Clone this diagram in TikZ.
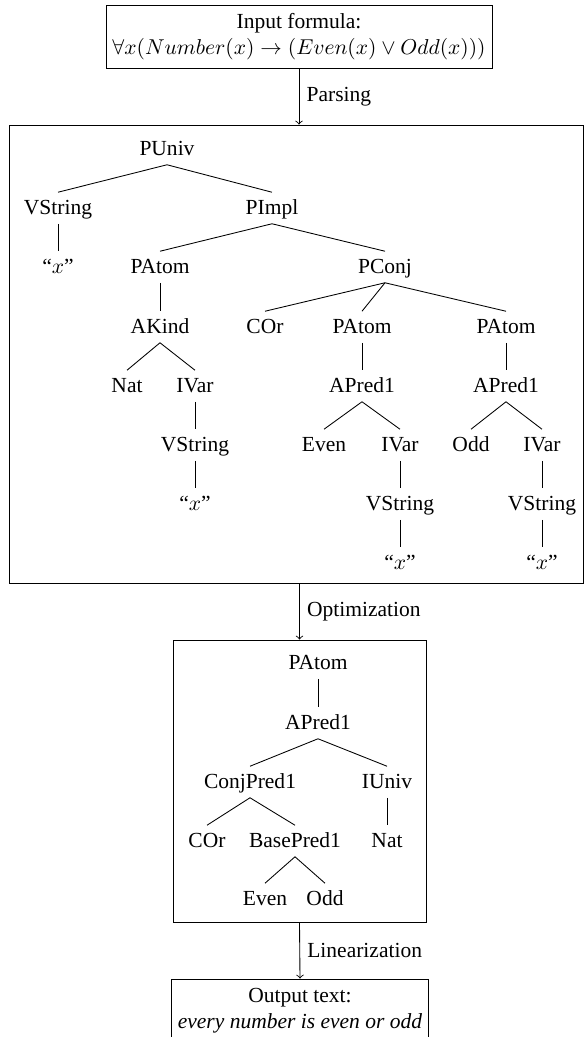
\documentclass[tikz,border=0pt]{standalone}
\usepackage{fontspec}
\setmainfont{Liberation Serif}
\usetikzlibrary{fit}
\tikzset{
  tn/.style={inner sep=3pt, text height=1.55ex, text depth=.25ex},
  frame/.style={draw, inner sep=0pt},
  txtbox/.style={draw, align=center, inner sep=3pt, minimum height=29.3pt},
}
\begin{document}
\begin{tikzpicture}[x=0.465pt,y=-0.465pt]
    \useasboundingbox (0,0) rectangle (584,1037);
    \node[txtbox] (inbox) at (299,36.5) {Input formula:\\ $\forall x(Number(x)\rightarrow(Even(x)\vee Odd(x)))$};
    \node[frame, fit={(9,125) (583,583)}] (ptree) {};
    \node[frame, fit={(173,640) (426,922)}] (otree) {};
    \node[txtbox] (outbox) at (300,1010.5) {Output text:\\ \textit{every number is even or odd}};
    \draw[->] (inbox.south) -- (inbox.south |- ptree.north) node[midway,right] {Parsing};
    \draw[->] (otree.north |- ptree.south) -- (otree.north) node[midway,right] {Optimization};
    \draw[->] (otree.south) -- (outbox.north) node[midway,right] {Linearization};
    \node[tn] (puniv) at (167,149) {PUniv};
    \node[tn] (vsa) at (58,208) {VString};
    \node[tn] (pimpl) at (272,208) {PImpl};
    \node[tn] (xa) at (58,267) {``$x$''};
    \node[tn] (patoma) at (160,267) {PAtom};
    \node[tn] (pconj) at (385,267) {PConj};
    \node[tn] (akind) at (160,327) {AKind};
    \node[tn] (cor) at (265,327) {COr};
    \node[tn] (patomb) at (362,327) {PAtom};
    \node[tn] (patomc) at (506,327) {PAtom};
    \node[tn] (nat) at (127,386) {Nat};
    \node[tn] (ivara) at (195,386) {IVar};
    \node[tn] (apredb) at (362,386) {APred1};
    \node[tn] (apredc) at (506,386) {APred1};
    \node[tn] (vsb) at (195,445) {VString};
    \node[tn] (even) at (324,445) {Even};
    \node[tn] (ivarb) at (400,445) {IVar};
    \node[tn] (odd) at (471,445) {Odd};
    \node[tn] (ivarc) at (542,445) {IVar};
    \node[tn] (xb) at (195,504) {``$x$''};
    \node[tn] (vsc) at (400,504) {VString};
    \node[tn] (vsd) at (542,504) {VString};
    \node[tn] (xc) at (400,563) {``$x$''};
    \node[tn] (xd) at (542,563) {``$x$''};
    \node[tn] (opatom) at (318,663) {PAtom};
    \node[tn] (opred) at (318,723) {APred1};
    \node[tn] (conjp) at (250,782) {ConjPred1};
    \node[tn] (iuniv) at (387,782) {IUniv};
    \node[tn] (ocor) at (207,841) {COr};
    \node[tn] (basep) at (295,841) {BasePred1};
    \node[tn] (onat) at (387,841) {Nat};
    \node[tn] (oeven) at (265,899) {Even};
    \node[tn] (oodd) at (325,899) {Odd};
    \foreach \a/\b in {puniv/vsa, puniv/pimpl, vsa/xa, pimpl/patoma, pimpl/pconj,
        patoma/akind, akind/nat, akind/ivara, ivara/vsb, vsb/xb,
        pconj/cor, pconj/patomb, pconj/patomc, patomb/apredb, patomc/apredc,
        apredb/even, apredb/ivarb, apredc/odd, apredc/ivarc,
        ivarb/vsc, ivarc/vsd, vsc/xc, vsd/xd,
        opatom/opred, opred/conjp, opred/iuniv, conjp/ocor, conjp/basep,
        iuniv/onat, basep/oeven, basep/oodd}
      \draw (\a.south) -- (\b.north);
\end{tikzpicture}
\end{document}
